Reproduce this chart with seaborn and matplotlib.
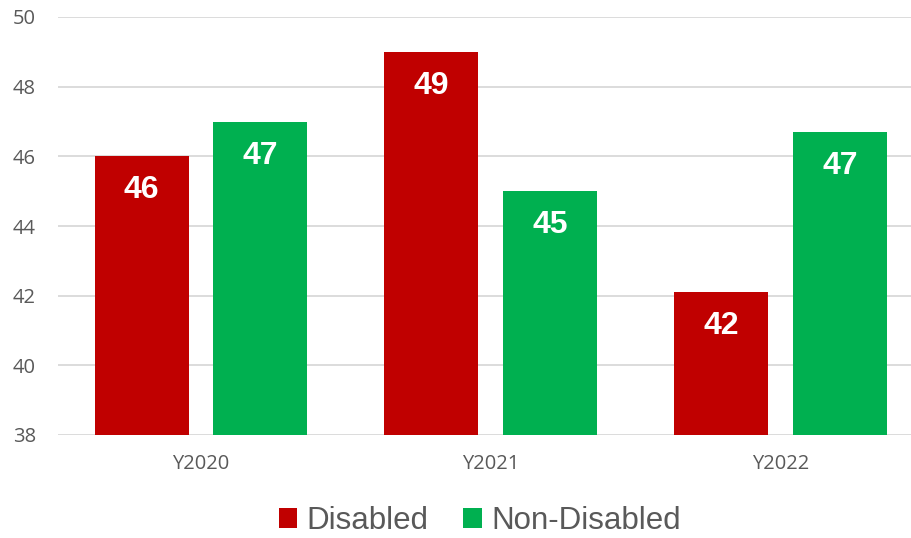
import matplotlib
matplotlib.use("Agg")
import matplotlib.pyplot as plt
import seaborn as sns
import pandas as pd

years = ["Y2020", "Y2021", "Y2022"]
disabled = [46.0, 49.0, 42.1]
non_disabled = [47.0, 45.0, 46.7]
series = ["Disabled", "Non-Disabled"]
colors = ["#C00000", "#00B050"]
yticks = [38, 40, 42, 44, 46, 48, 50]

df = pd.DataFrame({
    "year": years * 2,
    "value": disabled + non_disabled,
    "group": [series[0]] * 3 + [series[1]] * 3,
})

sns.set_theme(style="white")
plt.rcParams["font.family"] = ["Open Sans", "DejaVu Sans"]

fig = plt.figure(figsize=(9.12, 5.38), dpi=100)
ax = fig.add_axes([58 / 912, 1 - 435 / 538, 1 - 58 / 912, (435 - 17) / 538])

sns.barplot(data=df, x="year", y="value", hue="group", palette=colors,
            width=0.82, gap=0.21, dodge=True, ax=ax, legend=True,
            saturation=1, linewidth=0, zorder=3)

ax.set_ylim(38, 50)
ax.set_yticks(yticks)
ax.set_xlim(-0.4935, 2.454)
ax.grid(axis="y", color="#D9D9D9", linewidth=1.3, zorder=0)
ax.set_axisbelow(True)
for s in ax.spines.values():
    s.set_visible(False)
ax.set_xlabel("")
ax.set_ylabel("")
ax.tick_params(axis="both", length=0, colors="#595959")
ax.tick_params(axis="y", pad=16)
ax.tick_params(axis="x", pad=14)
for t in ax.get_yticklabels() + ax.get_xticklabels():
    t.set_fontsize(14.5)

for cont in ax.containers:
    for p in cont:
        h = p.get_height()
        ax.annotate(f"{h:.0f}", xy=(p.get_x() + p.get_width() / 2, h),
                    xytext=(0, -34), textcoords="offset pixels",
                    ha="center", va="center", color="white",
                    fontsize=23, fontweight="bold", family="Liberation Sans")

handles, labels = ax.get_legend_handles_labels()
ax.get_legend().remove()
fig.legend(handles, labels, loc="center", bbox_to_anchor=(0.526, 1 - 521 / 538),
           ncol=2, frameon=False, handlelength=0.6, handleheight=0.6,
           handletextpad=0.3, columnspacing=1.1,
           prop={"family": "Liberation Sans", "size": 22.5})
for t in fig.legends[0].get_texts():
    t.set_color("#595959")

fig.savefig("out.png", dpi=100)
